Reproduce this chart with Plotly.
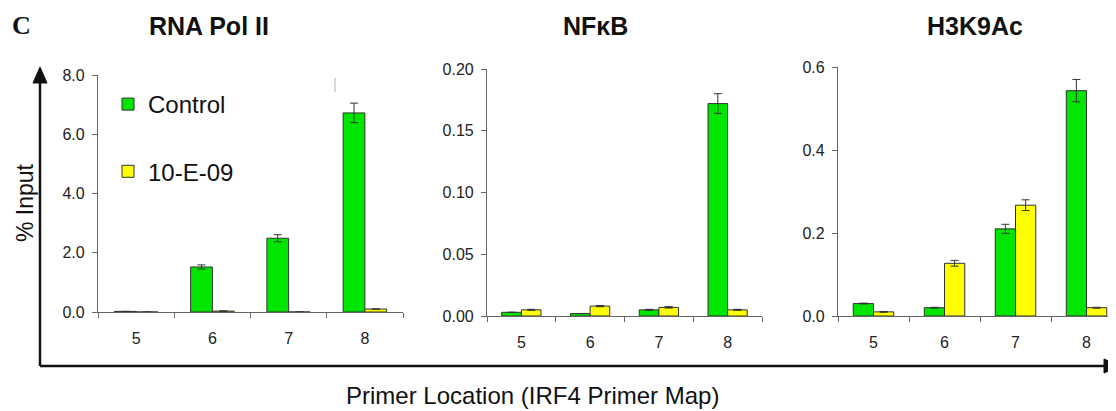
import plotly.graph_objects as go

# the page body has an 8px margin, so the figure is offset by OFF px
OFF = 8
W, H = 1116 - OFF, 411 - OFF

primers = ["5", "6", "7", "8"]

# RNA Pol II
pol_control = [0.02, 1.52, 2.49, 6.72]
pol_control_err = [0.0, 0.07, 0.12, 0.33]
pol_treated = [0.0, 0.03, 0.0, 0.10]
pol_treated_err = [0.0, 0.01, 0.0, 0.0]

# NFkB
nfkb_control = [0.003, 0.002, 0.005, 0.172]
nfkb_control_err = [0.0, 0.0, 0.0004, 0.008]
nfkb_treated = [0.005, 0.008, 0.007, 0.005]
nfkb_treated_err = [0.0004, 0.0005, 0.0006, 0.0004]

# H3K9Ac
h3_control = [0.030, 0.020, 0.210, 0.543]
h3_control_err = [0.001, 0.001, 0.011, 0.027]
h3_treated = [0.010, 0.127, 0.267, 0.020]
h3_treated_err = [0.001, 0.007, 0.013, 0.001]

series_names = ["Control", "10-E-09"]
titles = ["RNA Pol II", "NFκB", "H3K9Ac"]

GREEN = "#00e600"
YELLOW = "#ffff00"
OUTLINE = "#333333"


def px(x):
    return (x - OFF) / W


def py(y):
    return 1 - (y - OFF) / H


fig = go.Figure()

panels = [
    (pol_control, pol_control_err, pol_treated, pol_treated_err),
    (nfkb_control, nfkb_control_err, nfkb_treated, nfkb_treated_err),
    (h3_control, h3_control_err, h3_treated, h3_treated_err),
]

for i, (c, ce, t, te) in enumerate(panels):
    xa = "x" if i == 0 else f"x{i+1}"
    ya = "y" if i == 0 else f"y{i+1}"
    for name, vals, errs, col, grp in [
        (series_names[0], c, ce, GREEN, "g1"),
        (series_names[1], t, te, YELLOW, "g2"),
    ]:
        fig.add_trace(go.Bar(
            x=primers, y=vals, name=name, xaxis=xa, yaxis=ya,
            marker=dict(color=col, line=dict(color=OUTLINE, width=1)),
            error_y=dict(type="data", array=errs, visible=True,
                         color=OUTLINE, thickness=1, width=4),
            showlegend=(i == 0), legendgroup=grp,
        ))

tickfont = dict(family="Liberation Sans, Arial, sans-serif", size=16, color="#222")
axis_common = dict(showline=True, linecolor="#666", linewidth=1.2, ticks="outside",
                   tickcolor="#666", ticklen=5, showgrid=False, zeroline=False,
                   tickfont=tickfont, automargin=False)

# panel geometry (page pixels)
x_domains = [(98, 403), (487, 762), (838, 1116)]
y_domains = [(312, 75), (316, 69), (316, 67)]
y_ranges = [(0, 8.0), (0, 0.20), (0, 0.6)]
y_dticks = [2.0, 0.05, 0.2]
y_formats = [".1f", ".2f", ".1f"]
x_ranges = [(-0.5, 3.5), (-0.5, 3.5), (-0.5, -0.5 + (1116 - 838) / 71)]

layout = {}
for i in range(3):
    xk = "xaxis" if i == 0 else f"xaxis{i+1}"
    yk = "yaxis" if i == 0 else f"yaxis{i+1}"
    xa = "x" if i == 0 else f"x{i+1}"
    ya = "y" if i == 0 else f"y{i+1}"
    layout[xk] = dict(axis_common, domain=[px(x_domains[i][0]), px(x_domains[i][1])],
                      anchor=ya, type="category", tickson="boundaries",
                      range=list(x_ranges[i]), ticklabelstandoff=12)
    layout[yk] = dict(axis_common, domain=[py(y_domains[i][0]), py(y_domains[i][1])],
                      anchor=xa, range=list(y_ranges[i]), dtick=y_dticks[i],
                      tick0=0, tickformat=y_formats[i], ticklabelstandoff=4)

fig.update_layout(**layout)

title_font = dict(family="Liberation Sans, Arial, sans-serif", size=25, color="#111")
annotations = []
for t, cx in zip(titles, [209, 595, 975]):
    annotations.append(dict(text=f"<b>{t}</b>", x=px(cx), y=py(26), xref="paper",
                            yref="paper", showarrow=False, font=title_font,
                            xanchor="center", yanchor="middle"))
annotations.append(dict(text="<b>C</b>", x=px(22), y=py(26), xref="paper", yref="paper",
                        showarrow=False, xanchor="center", yanchor="middle",
                        font=dict(family="Liberation Serif, Times New Roman, serif",
                                  size=26, color="#111")))
annotations.append(dict(text="% Input", x=px(10), y=py(203), xref="paper", yref="paper",
                        showarrow=False, textangle=-90, xanchor="left", yanchor="middle",
                        font=dict(family="Liberation Sans, Arial, sans-serif", size=23,
                                  color="#111")))
annotations.append(dict(text="Primer Location (IRF4 Primer Map)", x=px(532), y=py(395),
                        xref="paper", yref="paper", showarrow=False, xanchor="center",
                        yanchor="middle",
                        font=dict(family="Liberation Sans, Arial, sans-serif", size=24,
                                  color="#111")))

shapes = [
    # big vertical axis with arrow
    dict(type="line", xref="paper", yref="paper", x0=px(40), x1=px(40),
         y0=py(366), y1=py(80), line=dict(color="#111", width=2.5)),
    dict(type="path", xref="paper", yref="paper",
         path=f"M {px(33)} {py(83)} L {px(40)} {py(67)} L {px(47)} {py(83)} Z",
         fillcolor="#111", line=dict(color="#111", width=1)),
    # big horizontal axis with arrow
    dict(type="line", xref="paper", yref="paper", x0=px(40), x1=px(1108),
         y0=py(366), y1=py(366), line=dict(color="#111", width=2.5)),
    dict(type="path", xref="paper", yref="paper",
         path=f"M {px(1104)} {py(359)} L {px(1120)} {py(366)} L {px(1104)} {py(373)} Z",
         fillcolor="#111", line=dict(color="#111", width=1)),
    # faint scan artifact
    dict(type="line", xref="paper", yref="paper", x0=px(335), x1=px(335),
         y0=py(78), y1=py(92), line=dict(color="#cccccc", width=1.5)),
]

fig.update_layout(
    template="none",
    width=W, height=H,
    margin=dict(l=0, r=0, t=0, b=0, pad=0, autoexpand=False),
    paper_bgcolor="white", plot_bgcolor="white",
    barmode="group", bargap=0.43, bargroupgap=0,
    annotations=annotations, shapes=shapes,
    legend=dict(x=px(108), y=py(82), xanchor="left", yanchor="top",
                bgcolor="rgba(0,0,0,0)", tracegroupgap=33, traceorder="grouped",
                font=dict(family="Liberation Sans, Arial, sans-serif", size=24,
                          color="#111")),
    showlegend=True,
)

fig.write_html("out.html")
